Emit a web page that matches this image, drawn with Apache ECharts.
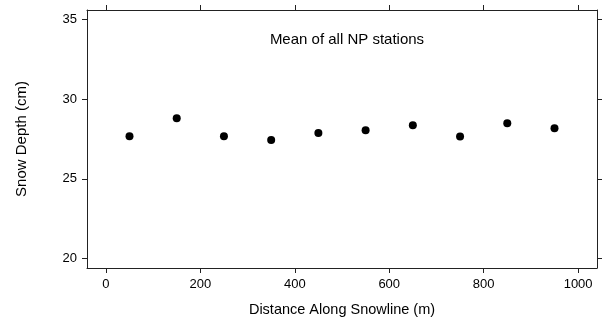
<!DOCTYPE html>
<html>
<head>
<meta charset="utf-8">
<script src="https://cdn.jsdelivr.net/npm/echarts@6/dist/echarts.min.js"></script>
<style>html,body{margin:0;padding:0;background:#fff}#c{width:616px;height:320px}</style>
</head>
<body>
<div id="c"></div>
<script>
var distances = [50, 150, 250, 350, 450, 550, 650, 750, 850, 950];
var snowDepth = [27.68, 28.8, 27.68, 27.43, 27.87, 28.05, 28.37, 27.66, 28.49, 28.18];
var xTicks = [0, 200, 400, 600, 800, 1000];
var yTicks = [20, 25, 30, 35];
var titleText = 'Mean of all NP stations';
var xName = 'Distance Along Snowline (m)';
var yName = 'Snow Depth (cm)';

var font = 'Liberation Sans, Arial, Helvetica, sans-serif';
var chart = echarts.init(document.getElementById('c'));
var axisLine = {show: true, onZero: false, lineStyle: {color: '#222', width: 1}};
function tk(vals) { return {show: true, inside: false, length: 5, lineStyle: {color: '#222'}, customValues: vals}; }
var plain = function (v) { return String(v); };
chart.setOption({
  animation: false,
  title: {text: titleText, left: 342, top: 27, textAlign: 'center',
    textStyle: {fontFamily: font, fontSize: 15, fontWeight: 'normal', color: '#000'}},
  grid: {left: 87, right: 19, top: 10, bottom: 52, containLabel: false, outerBoundsMode: 'none'},
  xAxis: [{
    type: 'value', min: -40, max: 1040,
    name: xName, nameLocation: 'middle', nameGap: 34,
    nameTextStyle: {fontFamily: font, fontSize: 14.5, color: '#000'},
    axisLine: axisLine, splitLine: {show: false},
    axisLabel: {fontFamily: font, fontSize: 13, color: '#000', margin: 10,
      customValues: xTicks, formatter: plain},
    axisTick: tk(xTicks)
  }, {
    type: 'value', position: 'top', min: -40, max: 1040,
    axisLine: axisLine, splitLine: {show: false},
    axisLabel: {show: false, customValues: xTicks},
    axisTick: tk(xTicks)
  }],
  yAxis: [{
    type: 'value', min: 19.4, max: 35.6,
    name: yName, nameLocation: 'middle', nameGap: 58,
    nameTextStyle: {fontFamily: font, fontSize: 15, color: '#000'},
    axisLine: axisLine, splitLine: {show: false},
    axisLabel: {fontFamily: font, fontSize: 13, color: '#000', margin: 10,
      customValues: yTicks, formatter: plain},
    axisTick: tk(yTicks)
  }, {
    type: 'value', position: 'right', min: 19.4, max: 35.6,
    axisLine: axisLine, splitLine: {show: false},
    axisLabel: {show: false, customValues: yTicks},
    axisTick: tk(yTicks)
  }],
  series: [{
    type: 'scatter', xAxisIndex: 0, yAxisIndex: 0,
    symbol: 'circle', symbolSize: 8,
    itemStyle: {color: '#000', opacity: 1},
    data: distances.map(function (d, i) { return [d, snowDepth[i]]; })
  }]
});
</script>
</body>
</html>
